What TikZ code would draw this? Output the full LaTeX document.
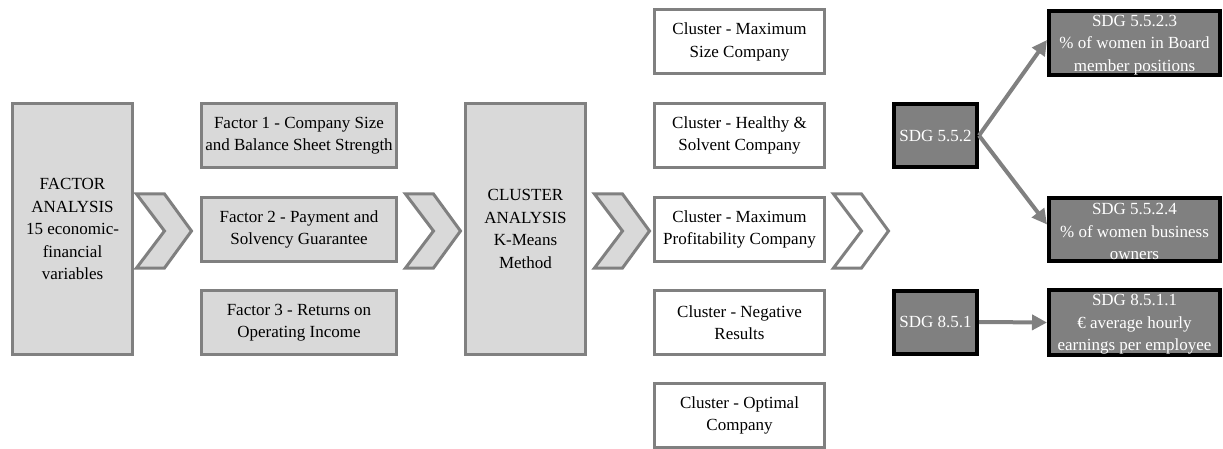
\documentclass[tikz,border=0pt]{standalone}
\usepackage{fontspec}
\setmainfont{Liberation Serif}
\usetikzlibrary{arrows.meta}
\definecolor{bordergray}{HTML}{808080}
\definecolor{lightfill}{HTML}{D9D9D9}
\definecolor{darkfill}{HTML}{808080}
\tikzset{
  basebox/.style={rectangle, inner sep=0pt, align=center, font=\fontsize{17}{22.5}\selectfont},
  lightbox/.style={basebox, draw=bordergray, fill=lightfill, line width=3pt},
  whitebox/.style={basebox, draw=bordergray, fill=white, line width=3pt, minimum width=170pt, minimum height=64pt},
  darkbox/.style={basebox, draw=black, fill=darkfill, line width=4pt, text=white},
  factorbox/.style={lightbox, minimum width=195pt, minimum height=64pt},
  bigbox/.style={lightbox, minimum width=120pt, minimum height=251pt},
  sdgsmall/.style={darkbox, minimum width=83pt, minimum height=63pt},
  sdgbig/.style={darkbox, minimum width=171pt, minimum height=62pt},
  chevfill/.style={draw=bordergray, fill=lightfill, line width=3pt, line join=miter},
  chevwhite/.style={draw=bordergray, fill=white, line width=3pt, line join=miter},
  sdgarrow/.style={draw=bordergray, line width=4pt, -{Triangle[length=15pt,width=15pt]}}
}
\newcommand{\mychevron}[2]{%
  \path[#2] (#1,194) -- ++(28,0) -- ++(27,37) -- ++(-27,37) -- ++(-28,0) -- ++(28,-37) -- cycle;}
\newcommand{\toplift}{\rule{0pt}{15.5pt}}
\begin{document}
\begin{tikzpicture}[x=1pt,y=-1pt]
\useasboundingbox (0,0) rectangle (1223,449);
% left big box
\node[bigbox] (fa) at (72.5,229) {FACTOR\\ANALYSIS\\15 economic-\\financial\\variables};
% factors
\node[factorbox] (f1) at (299,135.5) {Factor 1 - Company Size\\and Balance Sheet Strength};
\node[factorbox] (f2) at (299,229.5) {Factor 2 - Payment and\\Solvency Guarantee};
\node[factorbox] (f3) at (299,322.5) {Factor 3 - Returns on\\Operating Income};
% cluster analysis
\node[bigbox] (ca) at (525.5,229) {CLUSTER\\ANALYSIS\\K-Means\\Method};
% clusters
\node[whitebox] (c1) at (739.5,42) {Cluster - Maximum\\Size Company};
\node[whitebox] (c2) at (739.5,135.5) {Cluster - Healthy \&\\Solvent Company};
\node[whitebox] (c3) at (739.5,229.5) {Cluster - Maximum\\Profitability Company};
\node[whitebox] (c4) at (739.5,322.5) {Cluster - Negative\\Results};
\node[whitebox] (c5) at (739.5,415.5) {Cluster - Optimal\\Company};
% chevrons
\mychevron{136.5}{chevfill}
\mychevron{405.5}{chevfill}
\mychevron{594.5}{chevfill}
\mychevron{833.5}{chevwhite}
% SDG boxes
\node[sdgsmall] (s552) at (935.5,135.5) {SDG 5.5.2};
\node[sdgsmall] (s851) at (935.5,322) {SDG 8.5.1};
\node[sdgbig] (s5523) at (1134.5,43) {\toplift SDG 5.5.2.3\\\% of women in Board\\member positions};
\node[sdgbig] (s5524) at (1134.5,229.5) {\toplift SDG 5.5.2.4\\\% of women business\\owners};
\node[sdgbig] (s8511) at (1134.5,322.5) {\toplift SDG 8.5.1.1\\€ average hourly\\earnings per employee};
% arrows
\draw[sdgarrow] (s552.east) -- ([yshift=3pt]s5523.west);
\draw[sdgarrow] (s552.east) -- ([yshift=5pt]s5524.west);
\draw[sdgarrow] (s851.east) -- (s8511.west);
\end{tikzpicture}
\end{document}
